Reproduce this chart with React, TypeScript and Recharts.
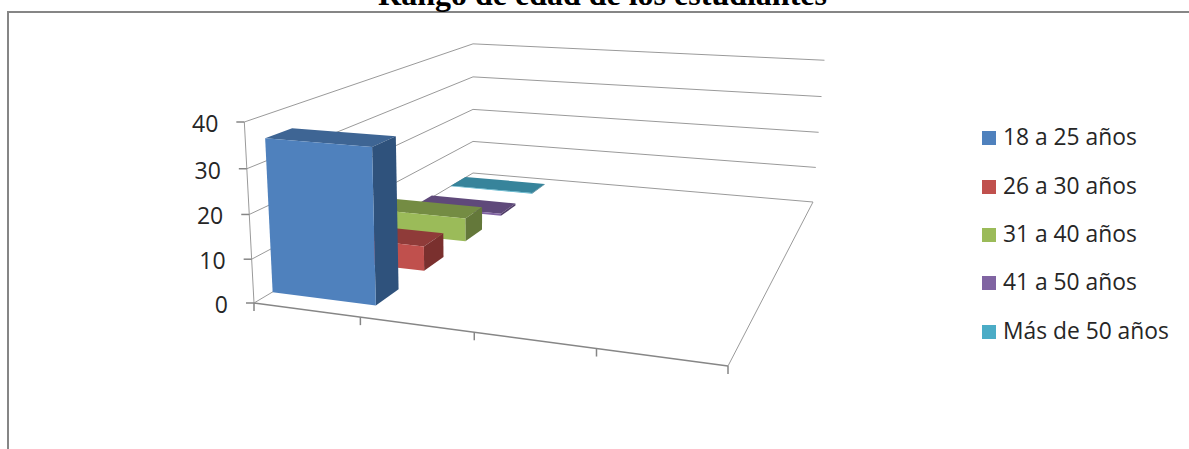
import { Bar, BarChart, CartesianGrid, XAxis, YAxis } from "recharts";

const categories = ["1", "2", "3", "4"];
const seriesNames = ["18 a 25 años", "26 a 30 años", "31 a 40 años", "41 a 50 años", "Más de 50 años"];
const seriesFirstValues = [35, 6, 6, 0.6, 0.2];
const yTicks = [0, 10, 20, 30, 40];

const frontColors = ["#4F81BD", "#C0504D", "#9BBB59", "#8064A2", "#4BACC6"];
const topColors = ["#3E6594", "#8F3B39", "#748C43", "#5F497A", "#37849B"];
const sideColors = ["#2F527C", "#7A302E", "#64783A", "#503D68", "#2F7085"];

const W = 1189;
const H = 449;
const M = 40; // flat plot margin, everything gets projected afterwards
const PW = W - 2 * M;
const PH = H - 2 * M;
const BAR_SIZE = (PW / 4) * 0.99;
const DEPTH_FRONT = 0.3;
const DEPTH_BACK = 0.75;

// floor corners of the 3d box on screen
const fl = [254, 303];
const fr = [728, 366];
const br = [813, 202];
const bl = [473, 173];

function makeFloor() {
  const dx1 = fr[0] - br[0];
  const dx2 = bl[0] - br[0];
  const sx = fl[0] - fr[0] + br[0] - bl[0];
  const dy1 = fr[1] - br[1];
  const dy2 = bl[1] - br[1];
  const sy = fl[1] - fr[1] + br[1] - bl[1];
  const den = dx1 * dy2 - dx2 * dy1;
  const g = (sx * dy2 - dx2 * sy) / den;
  const h = (dx1 * sy - sx * dy1) / den;
  return {
    a: fr[0] - fl[0] + g * fr[0],
    b: bl[0] - fl[0] + h * bl[0],
    c: fl[0],
    d: fr[1] - fl[1] + g * fr[1],
    e: bl[1] - fl[1] + h * bl[1],
    f: fl[1],
    g,
    h,
  };
}

const floor = makeFloor();
const VPX = 473;
const VPY = 4400;
const LIFT = (122 - fl[1]) / (VPY - 122);

// u along the front edge, d into the depth, t up the wall (all 0..1)
function project(u: number, d: number, t: number) {
  const w = floor.g * u + floor.h * d + 1 + t * LIFT;
  const x = floor.a * u + floor.b * d + floor.c + t * LIFT * VPX;
  const y = floor.d * u + floor.e * d + floor.f + t * LIFT * VPY;
  return [x / w, y / w];
}

const flatU = (x: number) => (x - M) / PW;
const flatT = (y: number) => (H - M - y) / PH;

function poly(points: number[][], fill: string) {
  return <polygon points={points.map((p) => p.join(",")).join(" ")} fill={fill} />;
}

function seg(a: number[], b: number[], stroke = "#9A9A9A", width = 1) {
  return <line x1={a[0]} y1={a[1]} x2={b[0]} y2={b[1]} stroke={stroke} strokeWidth={width} />;
}

function Box3D(props: any) {
  const { x, y, width, height, seriesIndex } = props;
  if (!width || props.value == null) return null;
  const u0 = flatU(x);
  const u1 = flatU(x + width);
  const t = flatT(y);
  const b = flatT(y + height);
  const d0 = (seriesIndex + DEPTH_FRONT) / 5;
  const d1 = (seriesIndex + DEPTH_BACK) / 5;
  return (
    <g>
      {poly([project(u0, d0, t), project(u1, d0, t), project(u1, d1, t), project(u0, d1, t)], topColors[seriesIndex])}
      {poly([project(u1, d0, t), project(u1, d1, t), project(u1, d1, b), project(u1, d0, b)], sideColors[seriesIndex])}
      {poly([project(u0, d0, t), project(u1, d0, t), project(u1, d0, b), project(u0, d0, b)], frontColors[seriesIndex])}
    </g>
  );
}

function WallLine(props: any) {
  const t = flatT(props.y1);
  return (
    <g key={props.key}>
      {seg(project(0, 0, t), project(0, 1, t))}
      {seg(project(0, 1, t), project(1, 1, t))}
      {t === 0 && seg(project(0, 0, 0), project(1, 0, 0), "#868686", 1.5)}
      {t === 0 && seg(project(1, 0, 0), project(1, 1, 0))}
      {t === 0 && seg(project(0, 0, 0), project(0, 0, 1))}
    </g>
  );
}

function ValueTick(props: any) {
  const p = project(0, 0, flatT(props.y));
  return (
    <g>
      {seg([p[0] - 8, p[1]], p, "#868686", 1.5)}
      <text x={p[0] - 26} y={p[1] + 10} textAnchor="end" fontFamily="Open Sans" fontSize={23} fill="#262626">
        {props.payload.value}
      </text>
    </g>
  );
}

function BoundaryTick(props: any) {
  const u = flatU(props.x) - 1 / 8;
  const p = project(u, 0, 0);
  const last = project(u + 1 / 4, 0, 0);
  return (
    <g>
      {seg(p, [p[0], p[1] + 8], "#868686", 1.5)}
      {props.index === categories.length - 1 && seg(last, [last[0], last[1] + 8], "#868686", 1.5)}
    </g>
  );
}

const rows = categories.map((name, i) => {
  const row: any = { name };
  seriesNames.forEach((s, k) => {
    row[s] = i === 0 ? seriesFirstValues[k] : null;
  });
  return row;
});

const legendY = [138, 187, 235, 283, 332];

export default function App() {
  return (
    <div style={{ position: "absolute", left: 0, top: 0, width: W, height: H, overflow: "hidden", background: "#fff" }}>
      <div
        style={{
          position: "absolute",
          left: 7,
          top: 11,
          width: 1182,
          height: 438,
          borderLeft: "2px solid #868686",
          borderTop: "2px solid #868686",
          boxSizing: "border-box",
        }}
      />
      <div
        style={{
          position: "absolute",
          left: 200,
          top: -24,
          width: 805,
          textAlign: "center",
          fontFamily: "Liberation Serif",
          fontWeight: "bold",
          fontSize: 32,
          lineHeight: "36px",
          color: "#000",
        }}
      >
        Rango de edad de los estudiantes
      </div>
      <div style={{ position: "absolute", left: 0, top: 0 }}>
        <BarChart
          width={W}
          height={H}
          data={rows}
          margin={{ top: M, right: M, bottom: M - 1, left: M - 1 }}
          barSize={BAR_SIZE}
          barGap={-BAR_SIZE}
        >
          <CartesianGrid vertical={false} horizontal={WallLine as any} />
          <XAxis dataKey="name" height={1} axisLine={false} tickLine={false} tick={BoundaryTick as any} />
          <YAxis width={1} domain={[0, 40]} ticks={yTicks} axisLine={false} tickLine={false} tick={ValueTick as any} />
          {[4, 3, 2, 1, 0].map((k) => (
            <Bar
              key={seriesNames[k]}
              dataKey={seriesNames[k]}
              fill={frontColors[k]}
              isAnimationActive={false}
              shape={(p: any) => <Box3D {...p} seriesIndex={k} />}
            />
          ))}
        </BarChart>
      </div>
      {seriesNames.map((name, k) => (
        <div key={name}>
          <div
            style={{
              position: "absolute",
              left: 982,
              top: legendY[k] - 7,
              width: 14,
              height: 14,
              background: frontColors[k],
            }}
          />
          <div
            style={{
              position: "absolute",
              left: 1003,
              top: legendY[k] - 15,
              lineHeight: "28px",
              fontFamily: "Open Sans",
              fontSize: 22.8,
              color: "#262626",
              whiteSpace: "nowrap",
            }}
          >
            {name}
          </div>
        </div>
      ))}
    </div>
  );
}
